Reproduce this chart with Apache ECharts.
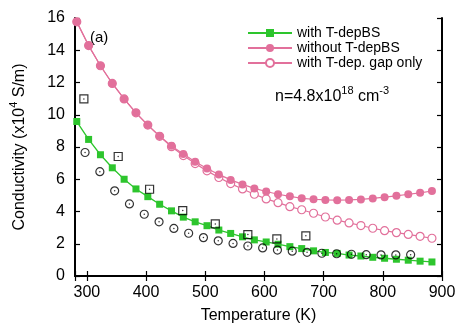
<!DOCTYPE html>
<html>
<head>
<meta charset="utf-8">
<script src="https://cdn.jsdelivr.net/npm/echarts@6/dist/echarts.min.js"></script>
<style>
  html, body { margin: 0; padding: 0; background: #fff; }
  #main { width: 471px; height: 330px; }
</style>
</head>
<body>
<div id="main"></div>
<script>
// temperatures of the model curves (K)
var tModel = [283, 303, 323, 343, 363, 383, 403, 423, 443, 463, 483, 503, 523, 543, 563, 583,
              603, 623, 643, 663, 683, 703, 723, 743, 763, 783, 803, 823, 843, 863, 883];
// with T-depBS
var withBS = [9.58, 8.47, 7.52, 6.71, 6.00, 5.40, 4.92, 4.45, 4.04, 3.65, 3.36, 3.12, 2.85, 2.64, 2.43, 2.24,
              2.11, 1.97, 1.82, 1.70, 1.56, 1.46, 1.40, 1.30, 1.24, 1.16, 1.10, 1.04, 0.98, 0.92, 0.87];
// without T-depBS
var withoutBS = [15.76, 14.29, 13.04, 11.94, 10.98, 10.12, 9.36, 8.68, 8.07, 7.56, 7.08, 6.67, 6.30, 5.96, 5.68, 5.43,
                 5.24, 5.07, 4.94, 4.82, 4.76, 4.72, 4.70, 4.72, 4.75, 4.81, 4.89, 4.97, 5.07, 5.16, 5.27];
// with T-dep. gap only
var gapOnly = [15.76, 14.29, 13.04, 11.94, 10.98, 10.12, 9.36, 8.66, 8.02, 7.47, 6.97, 6.52, 6.11, 5.73, 5.40, 5.07,
               4.78, 4.55, 4.30, 4.11, 3.89, 3.66, 3.46, 3.29, 3.13, 2.96, 2.81, 2.69, 2.58, 2.46, 2.34];

// experiment, open circles
var tCirc = [297, 322, 347, 372, 397, 422, 447, 472, 497, 522, 547, 572, 597, 622, 647, 672,
             697, 722, 747, 772, 797, 822, 847];
var circ = [7.66, 6.47, 5.28, 4.47, 3.83, 3.36, 2.95, 2.65, 2.38, 2.18, 2.02, 1.86, 1.74, 1.61, 1.54, 1.47,
            1.41, 1.38, 1.35, 1.32, 1.31, 1.31, 1.32];
// experiment, open squares
var tSq = [295, 353, 406, 462, 517, 572, 621, 670];
var sq = [10.98, 7.41, 5.38, 4.06, 3.23, 2.57, 2.30, 2.49];

var xTicks = [300, 400, 500, 600, 700, 800, 900];

var green = '#2dc52d';
var pink = '#e2709b';

function pairs(xs, ys) {
    return xs.map(function (x, i) { return [x, ys[i]]; });
}

var myChart = echarts.init(document.getElementById('main'));

var font = 'Liberation Sans, Arial, sans-serif';
var tickStyle = { show: true, inside: true, length: 5, lineStyle: { color: '#000', width: 1.2 } };
var lineAxis = { show: true, lineStyle: { color: '#000', width: 2 } };

myChart.setOption({
    animation: false,
    textStyle: { fontFamily: font },
    grid: { left: 72, right: 29, top: 18, bottom: 54 },
    legend: {
        orient: 'vertical',
        left: 242, top: 21,
        itemWidth: 44, itemHeight: 10, itemGap: 1,
        textStyle: { fontSize: 14, color: '#000', fontFamily: font },
        data: ['with T-depBS', 'without T-depBS', 'with T-dep. gap only']
    },
    xAxis: [{
        type: 'value', min: 280, max: 900, splitNumber: 6,
        name: 'Temperature (K)', nameLocation: 'middle', nameGap: 32,
        nameTextStyle: { fontSize: 16, color: '#000' },
        axisLine: lineAxis, axisTick: tickStyle, splitLine: { show: false },
        axisLabel: {
            fontSize: 16, color: '#000', margin: 9,
            formatter: function (v) { return xTicks.indexOf(v) >= 0 ? String(v) : ''; }
        }
    }, {
        type: 'value', min: 280, max: 900, splitNumber: 6, position: 'top',
        axisLine: lineAxis, axisTick: tickStyle, axisLabel: { show: false }, splitLine: { show: false }
    }],
    yAxis: [{
        type: 'value', min: 0, max: 16, interval: 2,
        name: '{a|Conductivity (x10}{s|4}{a| S/m)}', nameLocation: 'middle', nameGap: 43,
        nameTextStyle: {
            color: '#000',
            rich: {
                a: { fontSize: 16, lineHeight: 24, color: '#000', fontFamily: font },
                s: { fontSize: 11, lineHeight: 12, verticalAlign: 'top', color: '#000', fontFamily: font }
            }
        },
        axisLine: lineAxis, axisTick: tickStyle, splitLine: { show: false },
        axisLabel: { fontSize: 16, color: '#000', margin: 10 }
    }, {
        type: 'value', min: 0, max: 16, interval: 2, position: 'right',
        axisLine: lineAxis, axisTick: tickStyle, axisLabel: { show: false }, splitLine: { show: false }
    }],
    graphic: [{
        type: 'text', left: 90, top: 30,
        style: { text: '(a)', fontSize: 15, fill: '#000', fontFamily: font }
    }, {
        type: 'text', left: 275, top: 85,
        style: {
            text: '{a|n=4.8x10}{s|18}{a| cm}{s|-3}',
            rich: {
                a: { fontSize: 16, lineHeight: 24, fill: '#000', fontFamily: font },
                s: { fontSize: 11, lineHeight: 12, verticalAlign: 'top', fill: '#000', fontFamily: font }
            }
        }
    }],
    series: [{
        name: 'with T-depBS', type: 'line', data: pairs(tModel, withBS),
        symbol: 'rect', symbolSize: 7, z: 3,
        lineStyle: { color: green, width: 1.3 }, itemStyle: { color: green }
    }, {
        name: 'with T-dep. gap only', type: 'line', data: pairs(tModel, gapOnly),
        symbol: 'circle', symbolSize: 8, z: 2,
        lineStyle: { color: pink, width: 1.2 },
        itemStyle: { color: '#fff', borderColor: pink, borderWidth: 1.2 }
    }, {
        name: 'without T-depBS', type: 'line', data: pairs(tModel, withoutBS),
        symbol: 'circle', symbolSize: 8, z: 2,
        lineStyle: { color: pink, width: 1.2 }, itemStyle: { color: pink }
    }, {
        name: 'exp circles', type: 'scatter', data: pairs(tCirc, circ),
        symbol: 'circle', symbolSize: 8, z: 4,
        itemStyle: { color: 'rgba(0,0,0,0)', borderColor: '#000', borderWidth: 1.2 }
    }, {
        name: 'exp squares', type: 'scatter', data: pairs(tSq, sq),
        symbol: 'rect', symbolSize: 8, z: 4,
        itemStyle: { color: 'rgba(0,0,0,0)', borderColor: '#000', borderWidth: 1.2 }
    }, {
        name: 'dots', type: 'scatter', data: pairs(tCirc, circ).concat(pairs(tSq, sq)),
        symbol: 'circle', symbolSize: 1.5, z: 4, silent: true,
        itemStyle: { color: '#000' }
    }]
});
</script>
</body>
</html>
